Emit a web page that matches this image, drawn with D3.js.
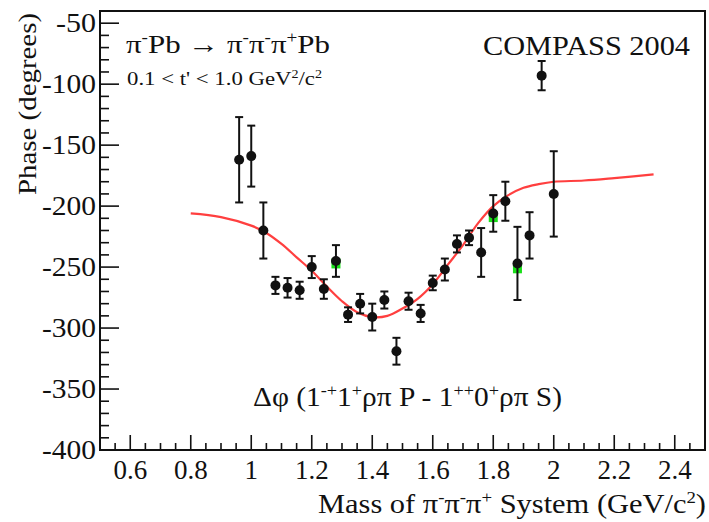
<!DOCTYPE html>
<html>
<head>
<meta charset="utf-8">
<script src="https://cdn.jsdelivr.net/npm/d3@7"></script>
<style>
  body { margin: 0; background: #fff; }
  svg { display: block; }
  text { font-family: "Liberation Serif", "DejaVu Serif", serif; fill: #111; }
</style>
</head>
<body>
<div id="chart"></div>
<script>
// mass bins (GeV/c^2) and measured phase (degrees) with errors
const massBins = [0.96, 1.00, 1.04, 1.08, 1.12, 1.16, 1.20, 1.24, 1.28, 1.32, 1.36, 1.40, 1.44, 1.48,
  1.52, 1.56, 1.60, 1.64, 1.68, 1.72, 1.76, 1.80, 1.84, 1.88, 1.92, 1.96, 2.00];
const phaseValues = [-162, -159, -220, -265, -267, -269, -250, -268, -245, -289, -280, -291, -277, -319,
  -278, -288, -263, -252, -231, -226, -238, -206, -196, -247, -224, -93, -190];
const phaseErrors = [35, 25, 23, 7, 8, 7, 9, 8, 13, 6, 8, 11, 7, 11,
  7, 7, 6, 9, 7, 6, 20, 15, 16, 30, 19, 12, 35];

// second (green) points hidden behind some black ones
const greenMass = [1.28, 1.80, 1.88];
const greenPhase = [-247, -209, -251];

// fit curve (red)
const fitMass = [0.80, 0.90, 1.00, 1.05, 1.10, 1.15, 1.20, 1.25, 1.30, 1.35, 1.40, 1.45, 1.50, 1.55,
  1.60, 1.65, 1.70, 1.75, 1.80, 1.85, 1.90, 1.95, 2.00, 2.10, 2.20, 2.33];
const fitPhase = [-206, -209, -216, -222, -231, -242, -253, -266, -278, -287, -291, -290, -284, -276,
  -264, -248, -232, -214, -200, -191, -185, -182, -180, -179, -177, -174];

const xTicks = [0.6, 0.8, 1.0, 1.2, 1.4, 1.6, 1.8, 2.0, 2.2, 2.4];
const yTicks = [-400, -350, -300, -250, -200, -150, -100, -50];

const W = 709, H = 522;
const svg = d3.select("#chart").append("svg").attr("width", W).attr("height", H);

const x = d3.scaleLinear().domain([0.5, 2.5]).range([100, 705]);
const y = d3.scaleLinear().domain([-400, -40]).range([450, 11]);

// frame
svg.append("rect")
  .attr("x", x(0.5)).attr("y", y(-40))
  .attr("width", x(2.5) - x(0.5)).attr("height", y(-400) - y(-40))
  .attr("fill", "none").attr("stroke", "#111").attr("stroke-width", 2);

// x axis ticks (inside, upward)
const xMinor = d3.range(0.55, 2.5, 0.05).map(v => +v.toFixed(2));
svg.append("g").selectAll("line").data(xMinor).join("line")
  .attr("x1", d => x(d)).attr("x2", d => x(d))
  .attr("y1", y(-400))
  .attr("y2", d => y(-400) - (xTicks.some(t => Math.abs(t - d) < 1e-6) ? 15 : 7))
  .attr("stroke", "#111").attr("stroke-width", 1.6);
svg.append("g").selectAll("text").data(xTicks).join("text")
  .attr("x", d => x(d)).attr("y", 479)
  .attr("text-anchor", "middle").attr("font-size", 27)
  .text(d => d3.format("~g")(d));

// y axis ticks (inside, right)
const yMinor = d3.range(-390, -40, 10);
svg.append("g").selectAll("line").data(yMinor).join("line")
  .attr("x1", x(0.5))
  .attr("x2", d => x(0.5) + (d % 50 === 0 ? 19 : 9))
  .attr("y1", d => y(d)).attr("y2", d => y(d))
  .attr("stroke", "#111").attr("stroke-width", 1.6);
svg.append("g").selectAll("text").data(yTicks).join("text")
  .attr("x", 96).attr("y", d => y(d) + 9)
  .attr("text-anchor", "end").attr("font-size", 27)
  .attr("textLength", d => d === -50 ? 40 : 54).attr("lengthAdjust", "spacingAndGlyphs")
  .text(d => "-" + Math.abs(d));

// rich text helper: parts = [[text, "n"|"sup"], ...]
function richText(g, parts, size) {
  const t = g.append("text").attr("font-size", size);
  let up = false;
  parts.forEach(([s, k]) => {
    const ts = t.append("tspan").text(s);
    if (k === "sup" && !up) { ts.attr("dy", -size * 0.38).attr("font-size", size * 0.62); up = true; }
    else if (k === "sup") { ts.attr("font-size", size * 0.62); }
    else if (up) { ts.attr("dy", size * 0.38); up = false; }
  });
  return t;
}

// axis titles
richText(svg, [["Phase (degrees)", "n"]], 26)
  .attr("text-anchor", "end")
  .attr("transform", "translate(36,13) rotate(-90)")
  .attr("textLength", 182).attr("lengthAdjust", "spacingAndGlyphs");

richText(svg, [["Mass of π", "n"], ["-", "sup"], ["π", "n"], ["-", "sup"], ["π", "n"], ["+", "sup"],
  [" System (GeV/c", "n"], ["2", "sup"], [")", "n"]], 27)
  .attr("text-anchor", "end")
  .attr("x", 706).attr("y", 513)
  .attr("textLength", 388).attr("lengthAdjust", "spacingAndGlyphs");

// annotations
richText(svg, [["π", "n"], ["-", "sup"], ["Pb → π", "n"], ["-", "sup"], ["π", "n"], ["-", "sup"],
  ["π", "n"], ["+", "sup"], ["Pb", "n"]], 26)
  .attr("x", 126).attr("y", 53)
  .attr("textLength", 204).attr("lengthAdjust", "spacingAndGlyphs");

richText(svg, [["0.1 < t' < 1.0 GeV", "n"], ["2", "sup"], ["/c", "n"], ["2", "sup"]], 19)
  .attr("x", 127).attr("y", 85)
  .attr("textLength", 195).attr("lengthAdjust", "spacingAndGlyphs");

richText(svg, [["COMPASS 2004", "n"]], 27)
  .attr("x", 483).attr("y", 55)
  .attr("textLength", 207).attr("lengthAdjust", "spacingAndGlyphs");

richText(svg, [["Δφ (1", "n"], ["-+", "sup"], ["1", "n"], ["+", "sup"], ["ρπ P - 1", "n"], ["++", "sup"],
  ["0", "n"], ["+", "sup"], ["ρπ S)", "n"]], 27)
  .attr("x", 253).attr("y", 406)
  .attr("textLength", 309).attr("lengthAdjust", "spacingAndGlyphs");

// fit curve
const line = d3.line().x((d, i) => x(fitMass[i])).y(d => y(d)).curve(d3.curveCatmullRom);
svg.append("path")
  .datum(fitPhase)
  .attr("d", line)
  .attr("fill", "none").attr("stroke", "#ff2a2a").attr("stroke-width", 2.2).attr("opacity", 0.9);

// green points
svg.append("g").selectAll("rect").data(greenPhase).join("rect")
  .attr("x", (d, i) => x(greenMass[i]) - 4.5).attr("y", d => y(d) - 5)
  .attr("width", 9).attr("height", 10)
  .attr("fill", "#19e019");

// error bars
const pts = massBins.map((m, i) => ({ m, v: phaseValues[i], e: phaseErrors[i] }));
const eb = svg.append("g").attr("stroke", "#111").attr("stroke-width", 2);
eb.selectAll(".v").data(pts).join("line")
  .attr("x1", d => x(d.m)).attr("x2", d => x(d.m))
  .attr("y1", d => y(d.v + d.e)).attr("y2", d => y(d.v - d.e));
eb.selectAll(".t").data(pts).join("line")
  .attr("x1", d => x(d.m) - 4).attr("x2", d => x(d.m) + 4)
  .attr("y1", d => y(d.v + d.e)).attr("y2", d => y(d.v + d.e));
eb.selectAll(".b").data(pts).join("line")
  .attr("x1", d => x(d.m) - 4).attr("x2", d => x(d.m) + 4)
  .attr("y1", d => y(d.v - d.e)).attr("y2", d => y(d.v - d.e));

// markers
svg.append("g").selectAll("circle").data(pts).join("circle")
  .attr("cx", d => x(d.m)).attr("cy", d => y(d.v)).attr("r", 5)
  .attr("fill", "#111");
</script>
</body>
</html>
